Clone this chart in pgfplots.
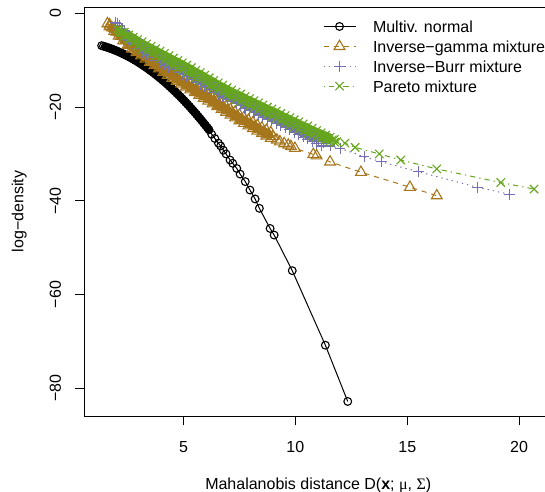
\documentclass[border=0pt]{standalone}
\usepackage{fontspec}
\setmainfont{Liberation Sans}
\newfontfamily\symf{Liberation Serif}
\usepackage{pgfplots}
\usepackage{pgfplotstable}
\pgfplotsset{compat=1.18}
\definecolor{igc}{HTML}{A6761D}
\definecolor{ibc}{HTML}{7570B3}
\definecolor{pac}{HTML}{66A61E}

\pgfplotstableread{
x y
1.34 -6.90
1.42 -7.01
1.50 -7.13
1.58 -7.25
1.66 -7.38
1.74 -7.51
1.82 -7.66
1.90 -7.81
1.98 -7.96
2.06 -8.12
2.14 -8.29
2.22 -8.46
2.30 -8.65
2.38 -8.83
2.46 -9.03
2.54 -9.23
2.62 -9.43
2.70 -9.65
2.78 -9.86
2.86 -10.09
2.94 -10.32
3.02 -10.56
3.10 -10.81
3.18 -11.06
3.26 -11.31
3.34 -11.58
3.42 -11.85
3.50 -12.13
3.58 -12.41
3.66 -12.70
3.74 -12.99
3.82 -13.30
3.90 -13.61
3.98 -13.92
4.06 -14.24
4.14 -14.57
4.22 -14.90
4.30 -15.25
4.38 -15.59
4.46 -15.95
4.54 -16.31
4.62 -16.67
4.70 -17.05
4.78 -17.42
4.86 -17.81
4.94 -18.20
5.02 -18.60
5.10 -19.01
5.18 -19.42
5.26 -19.83
5.34 -20.26
5.42 -20.69
5.50 -21.13
5.58 -21.57
5.66 -22.02
5.74 -22.47
5.82 -22.94
5.90 -23.41
5.98 -23.88
6.06 -24.36
6.14 -24.85
6.26 -25.80
6.40 -26.70
6.56 -27.70
6.66 -28.30
6.78 -29.20
6.90 -30.00
7.08 -31.30
7.20 -32.00
7.38 -33.10
7.53 -34.30
7.76 -35.90
7.97 -37.70
8.20 -39.60
8.39 -41.60
8.87 -45.90
9.05 -47.30
9.86 -54.90
11.34 -70.80
12.34 -82.80
}\normaltab

\pgfplotstableread{
x y
1.60 -2.2
1.80 -3.1
2.00 -4.0
2.20 -4.9
2.40 -5.8
2.60 -6.6
2.80 -7.4
3.00 -8.1
3.20 -8.8
3.40 -9.5
3.60 -10.2
3.80 -10.9
4.00 -11.6
4.20 -12.3
4.40 -12.9
4.60 -13.6
4.80 -14.2
5.00 -14.8
5.20 -15.4
5.40 -16.0
5.60 -16.6
5.80 -17.2
6.00 -17.8
6.20 -18.4
6.40 -19.0
6.60 -19.6
6.80 -20.2
7.00 -20.8
7.20 -21.4
7.40 -22.0
7.60 -22.6
7.80 -23.1
8.00 -23.7
8.20 -24.2
8.40 -24.8
8.60 -25.3
8.80 -25.8
9.00 -26.3
9.17 -27.0
9.31 -27.4
9.50 -27.8
9.68 -28.1
9.80 -28.4
9.98 -28.8
10.80 -30.1
10.95 -30.4
11.55 -31.7
12.93 -33.9
15.12 -37.1
16.32 -38.9
}\igtab

\pgfplotstableread{
x lo hi
1.7 -2.85 -2.45
1.9 -3.85 -3.25
2.1 -4.85 -4.05
2.3 -5.85 -4.85
2.5 -6.8 -5.6
2.7 -7.6 -6.4
2.9 -8.35 -7.15
3.1 -9.05 -7.85
3.3 -9.75 -8.55
3.5 -10.45 -9.25
3.7 -11.15 -9.95
3.9 -11.85 -10.65
4.1 -12.55 -11.35
4.3 -13.2 -12.0
4.5 -13.85 -12.65
4.7 -14.5 -13.3
4.9 -15.1 -13.9
5.1 -15.7 -14.5
5.3 -16.3 -15.1
5.5 -16.9 -15.7
5.7 -17.5 -16.3
5.9 -18.1 -16.9
6.1 -18.7 -17.5
6.3 -19.3 -18.1
6.5 -19.9 -18.7
6.7 -20.5 -19.3
6.9 -21.1 -19.9
7.1 -21.7 -20.5
7.3 -22.3 -21.1
7.5 -22.9 -21.7
7.7 -23.45 -22.25
7.9 -24.0 -22.8
8.1 -24.55 -23.35
8.3 -25.1 -23.9
8.5 -25.65 -24.45
8.7 -26.15 -24.95
8.9 -26.65 -25.45
}\igedge

\pgfplotstableread{
x y
1.95 -1.9
2.05 -2.2
2.25 -3.5
2.45 -4.7
2.65 -5.7
2.85 -6.5
3.05 -7.2
3.25 -7.8
3.45 -8.4
3.65 -9.0
3.85 -9.5
4.05 -10.0
4.25 -10.5
4.45 -11.0
4.65 -11.5
4.85 -12.0
5.05 -12.5
5.25 -13.0
5.45 -13.6
5.65 -14.1
5.85 -14.6
6.05 -15.2
6.25 -15.7
6.45 -16.3
6.65 -16.8
6.85 -17.3
7.05 -17.8
7.25 -18.3
7.45 -18.7
7.65 -19.2
7.85 -19.7
8.05 -20.2
8.25 -20.7
8.45 -21.1
8.65 -21.6
8.85 -22.0
9.05 -22.4
9.25 -22.9
9.45 -23.4
9.65 -23.8
9.85 -24.3
10.05 -24.9
10.25 -25.4
10.45 -25.8
10.65 -26.3
10.85 -26.7
11.05 -27.3
11.25 -27.7
11.55 -28.3
12.00 -28.8
13.07 -30.6
13.86 -31.7
15.50 -33.8
18.13 -37.1
19.56 -38.6
}\ibtab

\pgfplotstableread{
x lo hi
2.15 -3.15 -2.55
2.35 -4.5 -3.7
2.55 -5.7 -4.7
2.75 -6.7 -5.5
2.95 -7.55 -6.15
3.15 -8.3 -6.7
3.35 -8.9 -7.3
3.55 -9.5 -7.9
3.75 -10.05 -8.45
3.95 -10.55 -8.95
4.15 -11.05 -9.45
4.35 -11.55 -9.95
4.55 -12.05 -10.45
4.75 -12.55 -10.95
4.95 -13.05 -11.45
5.15 -13.55 -11.95
5.35 -14.1 -12.5
5.55 -14.65 -13.05
5.75 -15.15 -13.55
5.95 -15.7 -14.1
6.15 -16.25 -14.65
6.35 -16.8 -15.2
6.55 -17.35 -15.75
6.75 -17.85 -16.25
6.95 -18.35 -16.75
7.15 -18.85 -17.25
7.35 -19.3 -17.7
7.55 -19.75 -18.15
7.75 -20.25 -18.65
7.95 -20.75 -19.15
8.15 -21.25 -19.65
8.35 -21.7 -20.1
8.55 -22.15 -20.55
8.75 -22.6 -21.0
8.95 -23.0 -21.4
9.15 -23.45 -21.85
9.35 -23.95 -22.35
9.55 -24.4 -22.8
9.75 -24.85 -23.25
9.95 -25.4 -23.8
10.15 -25.95 -24.35
10.35 -26.4 -24.8
10.55 -26.85 -25.25
10.75 -27.3 -25.7
10.95 -27.8 -26.2
11.15 -28.3 -26.7
}\ibedge

\pgfplotstableread{
x y
2.05 -3.4
2.25 -4.1
2.45 -4.8
2.65 -5.4
2.85 -6.0
3.05 -6.6
3.25 -7.1
3.45 -7.6
3.65 -8.1
3.85 -8.6
4.05 -9.1
4.25 -9.6
4.45 -10.1
4.65 -10.6
4.85 -11.1
5.05 -11.6
5.25 -12.1
5.45 -12.7
5.65 -13.2
5.85 -13.7
6.05 -14.3
6.25 -14.8
6.45 -15.4
6.65 -15.9
6.85 -16.4
7.05 -16.9
7.25 -17.4
7.45 -17.8
7.65 -18.3
7.85 -18.8
8.05 -19.2
8.25 -19.7
8.45 -20.1
8.65 -20.6
8.85 -21.0
9.05 -21.4
9.25 -21.9
9.45 -22.4
9.65 -22.8
9.85 -23.3
10.05 -23.7
10.25 -24.2
10.45 -24.6
10.65 -25.1
10.85 -25.5
11.05 -25.9
11.25 -26.3
11.45 -26.7
11.65 -27.0
11.85 -27.4
12.22 -27.7
12.67 -28.6
13.75 -30.0
14.71 -31.3
16.32 -33.2
19.18 -36.1
20.67 -37.5
}\patab

\pgfplotstableread{
x lo hi
2.15 -4.05 -3.45
2.35 -4.85 -4.05
2.55 -5.6 -4.6
2.75 -6.3 -5.1
2.95 -7.0 -5.6
3.15 -7.65 -6.05
3.35 -8.15 -6.55
3.55 -8.65 -7.05
3.75 -9.15 -7.55
3.95 -9.65 -8.05
4.15 -10.15 -8.55
4.35 -10.65 -9.05
4.55 -11.15 -9.55
4.75 -11.65 -10.05
4.95 -12.15 -10.55
5.15 -12.65 -11.05
5.35 -13.2 -11.6
5.55 -13.75 -12.15
5.75 -14.25 -12.65
5.95 -14.8 -13.2
6.15 -15.35 -13.75
6.35 -15.9 -14.3
6.55 -16.45 -14.85
6.75 -16.95 -15.35
6.95 -17.45 -15.85
7.15 -17.95 -16.35
7.35 -18.4 -16.8
7.55 -18.85 -17.25
7.75 -19.35 -17.75
7.95 -19.8 -18.2
8.15 -20.25 -18.65
8.35 -20.7 -19.1
8.55 -21.15 -19.55
8.75 -21.6 -20.0
8.95 -22.0 -20.4
9.15 -22.45 -20.85
9.35 -22.95 -21.35
9.55 -23.4 -21.8
9.75 -23.85 -22.25
9.95 -24.3 -22.7
10.15 -24.75 -23.15
10.35 -25.2 -23.6
10.55 -25.65 -24.05
10.75 -26.1 -24.5
10.95 -26.4 -25.0
11.15 -26.7 -25.5
11.35 -27.0 -26.0
11.55 -27.25 -26.45
11.75 -27.5 -26.9
}\paedge

\begin{document}
\begin{tikzpicture}[font=\fontsize{16bp}{19bp}\selectfont]
\begin{axis}[name=ax, scale only axis, width=467.5bp, height=408.7bp,
  xmin=0.574, xmax=21.47, ymin=-85.9, ymax=1.28,
  xtick={5,10,15,20}, xticklabels={5,10,15,20},
  ytick={-80,-60,-40,-20,0}, yticklabels={−80,−60,−40,−20,0},
  tick pos=left, tick align=outside, major tick length=9.5bp,
  every tick/.style={black, line width=0.9bp},
  axis line style={line width=0.9bp},
  xticklabel style={anchor=base}, xticklabel shift=27bp,
  yticklabel style={rotate=90, anchor=base}, yticklabel shift=14bp,
  xlabel={Mahalanobis distance D(\textbf{x}; {\symf μ}, {\symf Σ})},
  ylabel={log−density},
  xlabel style={at={([yshift=-73.5bp]axis description cs:0.5,0)}, anchor=base},
  ylabel style={at={([xshift=-61bp]axis description cs:0,0.5)}, anchor=base},
  legend style={at={(rel axis cs:0.5102,0.9690)}, anchor=north west, draw=none, fill=none,
    inner sep=0pt, outer sep=0pt, row sep=6.9bp,
    nodes={inner sep=0pt, text height=12.5bp, text depth=0.5bp},
    /tikz/every odd column/.style={column sep=17bp}},
  legend cell align=left,
  legend image code/.code={\draw[mark repeat=2,mark phase=2,#1] plot coordinates {(0bp,0bp) (16bp,0bp) (32bp,0bp)};},
]
% multivariate normal: solid band underneath the dense run of circles
\addplot[forget plot, black, line width=7.5bp, line cap=round, line join=round, restrict x to domain=1.5:6.2] table[x=x,y=y] {\normaltab};
\addplot[black, line width=1bp, mark=o, mark size=3.9bp, mark options={solid, line width=1.1bp}] table[x=x,y=y] {\normaltab};
\addlegendentry{Multiv. normal}

\addplot[forget plot, igc, line width=9bp, line cap=round, line join=round, restrict x to domain=1.8:8.9] table[x=x,y=y] {\igtab};
\addplot[forget plot, only marks, igc, mark=triangle, mark size=6.2bp, mark options={solid, line width=1.1bp}] table[x=x,y=lo] {\igedge};
\addplot[forget plot, only marks, igc, mark=triangle, mark size=6.2bp, mark options={solid, line width=1.1bp}] table[x=x,y=hi] {\igedge};
\addplot[igc, line width=1bp, dash pattern=on 5bp off 5bp, mark=triangle, mark size=6.2bp, mark options={solid, line width=1.1bp}] table[x=x,y=y] {\igtab};
\addlegendentry{Inverse−gamma mixture}

\addplot[forget plot, ibc, line width=8bp, line cap=round, line join=round, restrict x to domain=2.3:11.0] table[x=x,y=y] {\ibtab};
\addplot[forget plot, only marks, ibc, mark=+, mark size=5.3bp, mark options={solid, line width=1.1bp}] table[x=x,y=lo] {\ibedge};
\addplot[forget plot, only marks, ibc, mark=+, mark size=5.3bp, mark options={solid, line width=1.1bp}] table[x=x,y=hi] {\ibedge};
\addplot[ibc, line width=1bp, dash pattern=on 1.3bp off 4bp, mark=+, mark size=5.3bp, mark options={solid, line width=1.1bp}] table[x=x,y=y] {\ibtab};
\addlegendentry{Inverse−Burr mixture}

\addplot[forget plot, pac, line width=11.5bp, line cap=round, line join=round, restrict x to domain=2.3:11.6] table[x=x,y=y] {\patab};
\addplot[forget plot, only marks, pac, mark=x, mark size=5.9bp, mark options={solid, line width=1.1bp}] table[x=x,y=lo] {\paedge};
\addplot[forget plot, only marks, pac, mark=x, mark size=5.9bp, mark options={solid, line width=1.1bp}] table[x=x,y=hi] {\paedge};
\addplot[pac, line width=1bp, dash pattern=on 1.3bp off 4bp on 5.3bp off 4bp, mark=x, mark size=5.9bp, mark options={solid, line width=1.1bp}] table[x=x,y=y] {\patab};
\addlegendentry{Pareto mixture}
\end{axis}
\pgfresetboundingbox
\path[use as bounding box] ([shift={(-84.5bp,-75.5bp)}]ax.south west) rectangle ([shift={(460.5bp,7.3bp)}]ax.north west);
\end{tikzpicture}
\end{document}
